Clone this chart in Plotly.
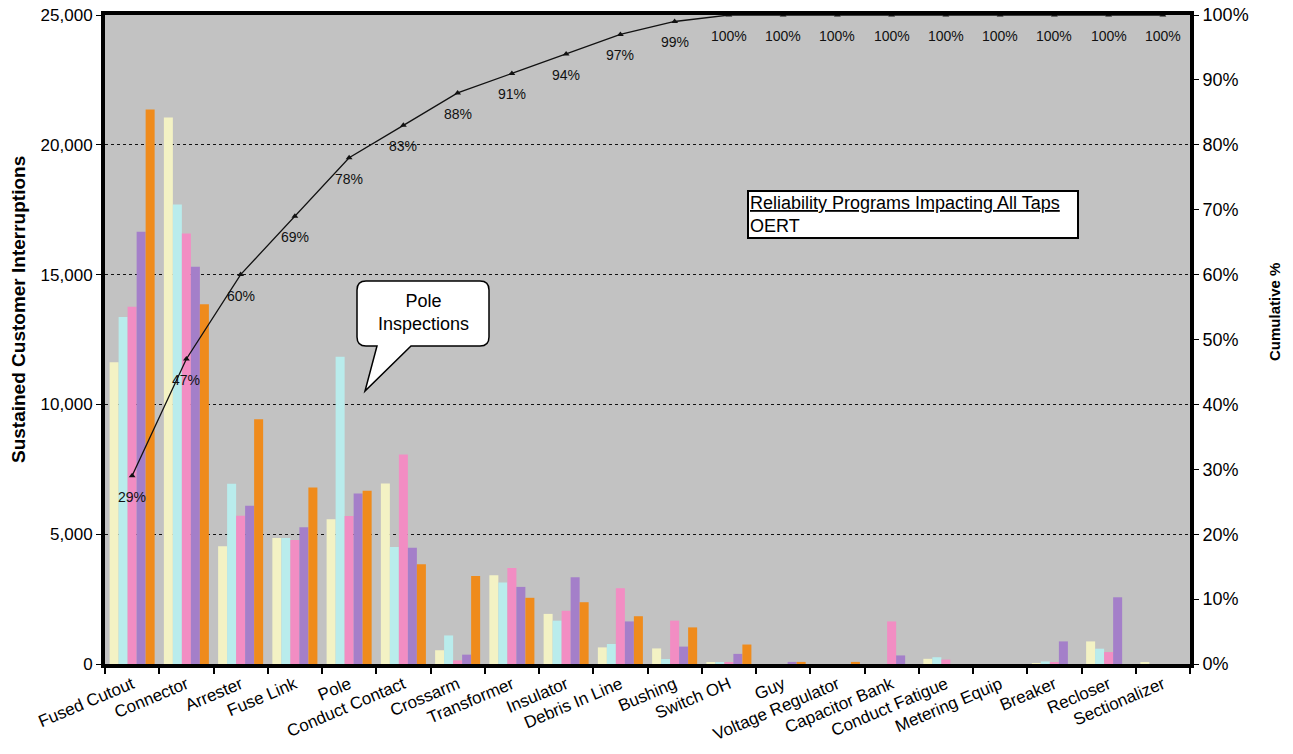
import plotly.graph_objects as go

# Outage causes, one group of five bars each
categories = [
    "Fused Cutout", "Connector", "Arrester", "Fuse Link", "Pole",
    "Conduct Contact", "Crossarm", "Transformer", "Insulator", "Debris In Line",
    "Bushing", "Switch OH", "Guy", "Voltage Regulator", "Capacitor Bank",
    "Conduct Fatigue", "Metering Equip", "Breaker", "Recloser", "Sectionalizer",
]

# Sustained customer interruptions per period
period_1 = [11620, 21050, 4540, 4850, 5580, 6950, 530, 3420, 1930, 640,
            600, 60, 0, 0, 0, 200, 0, 30, 870, 50]
period_2 = [13370, 17700, 6940, 4850, 11840, 4510, 1100, 3140, 1670, 770,
            190, 60, 0, 0, 0, 260, 0, 100, 590, 0]
period_3 = [13760, 16580, 5710, 4780, 5700, 8070, 140, 3700, 2050, 2920,
            1670, 60, 0, 0, 1640, 170, 0, 60, 460, 0]
period_4 = [16650, 15300, 6100, 5270, 6570, 4480, 360, 2970, 3340, 1640,
            670, 390, 80, 0, 330, 0, 0, 870, 2570, 0]
period_5 = [21360, 13860, 9430, 6800, 6670, 3840, 3390, 2550, 2380, 1840,
            1410, 750, 80, 80, 0, 0, 0, 0, 0, 0]

# Cumulative share (Pareto line)
cumulative = [0.29, 0.47, 0.60, 0.69, 0.78, 0.83, 0.88, 0.91, 0.94, 0.97,
              0.99, 1.00, 1.00, 1.00, 1.00, 1.00, 1.00, 1.00, 1.00, 1.00]

y_ticks = [0, 5000, 10000, 15000, 20000, 25000]
pct_ticks = [i / 10 for i in range(11)]

series = [
    ("Period 1", period_1, "#f3f2c4"),
    ("Period 2", period_2, "#b9ecec"),
    ("Period 3", period_3, "#f28dc3"),
    ("Period 4", period_4, "#a47fc9"),
    ("Period 5", period_5, "#ef8b1c"),
]

FONT = "Liberation Sans, Arial, sans-serif"
W, H = 1293, 754
M_L, M_R, M_T, M_B = 105, 103, 15, 90


def px(x, y):
    """Convert page pixel position to paper coordinates."""
    pw = W - M_L - M_R
    ph = H - M_T - M_B
    return (x - M_L) / pw, (H - M_B - y) / ph


fig = go.Figure()
for name, vals, color in series:
    fig.add_bar(x=categories, y=vals, name=name,
                marker=dict(color=color, line=dict(width=0)))

fig.add_scatter(
    x=categories, y=cumulative, yaxis="y2", mode="lines+markers",
    line=dict(color="#111", width=1.3),
    marker=dict(symbol="triangle-up", size=6, color="#111"),
    cliponaxis=False, name="Cumulative %",
)

# percentage labels sit a little below each point of the Pareto line
pct_labels = [
    dict(xref="x", yref="y2", x=cat, y=val, text=f"{round(val * 100)}%",
         showarrow=False, xanchor="center", yanchor="middle", yshift=-21,
         font=dict(family=FONT, size=14, color="#111"))
    for cat, val in zip(categories, cumulative)
]

# speech bubble for the pole inspection callout
x0, y0 = px(357, 281)
x1, y1 = px(489, 346)
rx = 9 / (W - M_L - M_R)
ry = 9 / (H - M_T - M_B)
tl, tip, tr = px(377, 346), px(365, 391), px(411, 346)
bubble = (
    f"M {x0 + rx},{y0} L {x1 - rx},{y0} Q {x1},{y0} {x1},{y0 - ry} "
    f"L {x1},{y1 + ry} Q {x1},{y1} {x1 - rx},{y1} "
    f"L {tr[0]},{tr[1]} L {tip[0]},{tip[1]} L {tl[0]},{tl[1]} "
    f"L {x0 + rx},{y1} Q {x0},{y1} {x0},{y1 + ry} "
    f"L {x0},{y0 - ry} Q {x0},{y0} {x0 + rx},{y0} Z"
)

bx, by = px(423, 312)
lx, ly = px(747, 214)
ltx, lty = px(18, 310)
rtx, rty = px(1274, 312)

fig.update_layout(
    width=W, height=H,
    margin=dict(l=M_L, r=M_R, t=M_T, b=M_B),
    paper_bgcolor="white", plot_bgcolor="#c2c2c2",
    barmode="group", bargap=0.17, bargroupgap=0,
    showlegend=False,
    font=dict(family=FONT, size=14, color="black"),
    xaxis=dict(
        type="category", range=[-0.5, len(categories) - 0.5],
        automargin=False,
        showline=True, linewidth=4, linecolor="black",
        mirror=True, ticks="outside", tickson="boundaries", ticklen=6,
        tickwidth=2, tickcolor="black", tickangle=-23,
        tickfont=dict(family=FONT, size=17), showgrid=False,
    ),
    yaxis=dict(
        range=[0, 25000], tickvals=y_ticks, tickformat=",", automargin=False,
        showgrid=True, gridcolor="#111", gridwidth=1, griddash="dot",
        zeroline=False, showline=True, linewidth=4, linecolor="black",
        ticks="outside", ticklen=5, tickcolor="black",
        tickfont=dict(family=FONT, size=17),
    ),
    yaxis2=dict(
        overlaying="y", side="right", range=[0, 1], tickvals=pct_ticks,
        tickformat=".0%", showgrid=False, zeroline=False, automargin=False,
        showline=True, linewidth=4, linecolor="black",
        ticks="outside", ticklen=5, tickcolor="black",
        tickfont=dict(family=FONT, size=18),
    ),
    shapes=[dict(type="path", xref="paper", yref="paper", path=bubble,
                 fillcolor="white", line=dict(color="black", width=1.5))],
    annotations=pct_labels + [
        dict(xref="paper", yref="paper", x=ltx, y=lty, showarrow=False,
             xanchor="center", yanchor="middle", textangle=-90,
             text="<b>Sustained Customer Interruptions</b>",
             font=dict(family=FONT, size=19, color="black")),
        dict(xref="paper", yref="paper", x=rtx, y=rty, showarrow=False,
             xanchor="center", yanchor="middle", textangle=-90,
             text="<b>Cumulative %</b>",
             font=dict(family=FONT, size=15, color="black")),
        dict(xref="paper", yref="paper", x=bx, y=by, showarrow=False,
             xanchor="center", yanchor="middle",
             text="Pole<br>Inspections", align="center",
             font=dict(family=FONT, size=18, color="black")),
        dict(xref="paper", yref="paper", x=lx, y=ly, xanchor="left",
             yanchor="middle", showarrow=False, align="left", width=326,
             text="<u>Reliability Programs Impacting All Taps</u><br>OERT",
             bgcolor="white", bordercolor="black", borderwidth=2,
             borderpad=1, font=dict(family=FONT, size=18, color="black")),
    ],
)

fig.write_html("out.html")
